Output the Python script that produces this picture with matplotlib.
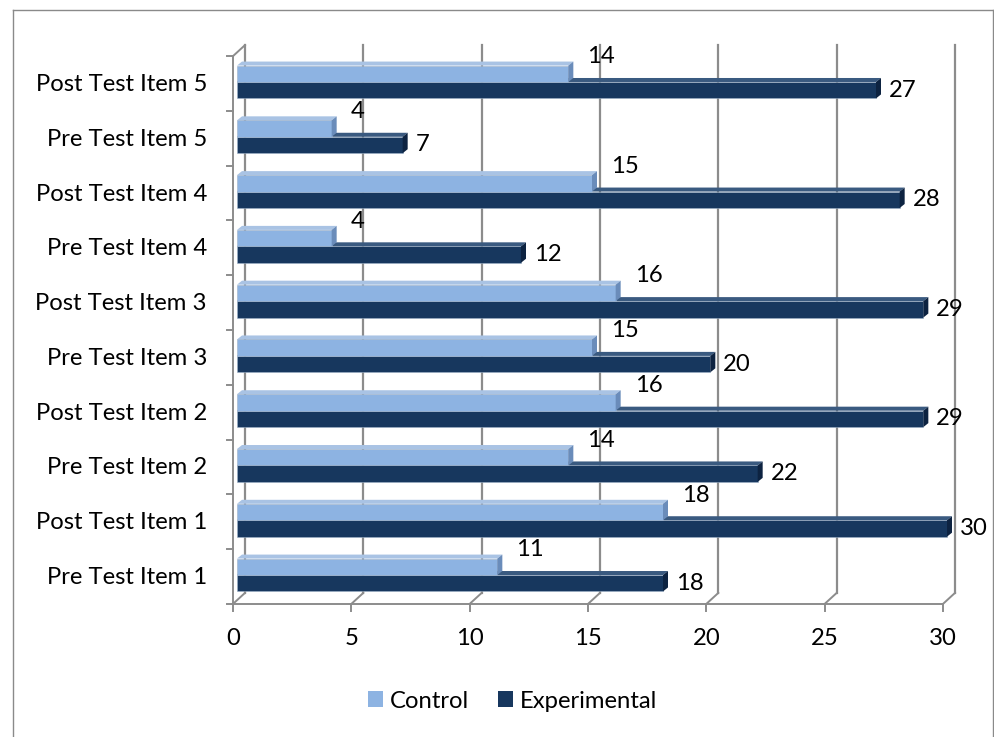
import matplotlib
matplotlib.use("Agg")
import matplotlib.pyplot as plt
from matplotlib import transforms
from matplotlib.patches import Polygon, Patch
from matplotlib.lines import Line2D

plt.rcParams['font.family'] = ['Lato', 'DejaVu Sans']

categories = ["Pre Test Item 1", "Post Test Item 1", "Pre Test Item 2", "Post Test Item 2",
              "Pre Test Item 3", "Post Test Item 3", "Pre Test Item 4", "Post Test Item 4",
              "Pre Test Item 5", "Post Test Item 5"]
control = [11, 18, 14, 16, 15, 16, 4, 15, 4, 14]
experimental = [18, 30, 22, 29, 20, 29, 12, 28, 7, 27]
x_ticks = [0, 5, 10, 15, 20, 25, 30]
series_names = ["Control", "Experimental"]

# face colours: front, top, side
CTRL = ("#8DB3E2", "#A9C3E4", "#6A8CBA")
EXPR = ("#17375E", "#3A5A80", "#0D2341")
GRID = "#8C8C8C"
FS = 17.2

W, H = 995, 737
fig = plt.figure(figsize=(W / 100, H / 100), dpi=100)
fig.patch.set_facecolor("white")

# axes occupy the plane in which the bars sit
left_px, right_px = 237, 947
top_px, bot_px = 54.6, 602.4
ax = fig.add_axes([left_px / W, 1 - bot_px / H, (right_px - left_px) / W, (bot_px - top_px) / H])
ax.set_xlim(0, 30)
ax.set_ylim(-0.5, 9.5)
ax.set_axis_off()

front = transforms.offset_copy(ax.transData, fig=fig, x=-4, y=-1.5, units='dots')
back = transforms.offset_copy(ax.transData, fig=fig, x=8, y=9.5, units='dots')

n = len(categories)

# back wall gridlines
for v in x_ticks:
    ax.plot([v, v], [-0.5, 9.5], color=GRID, lw=1.6, transform=back, clip_on=False, zorder=1)
# floor front edge, slanted connectors and ticks
ax.plot([0, 30], [-0.5, -0.5], color=GRID, lw=1.4, transform=front, clip_on=False, zorder=1)
fig.canvas.draw()
for v in x_ticks:
    fx, fy = front.transform((v, -0.5))
    bx, by = back.transform((v, -0.5))
    fig.add_artist(Line2D([fx / W, bx / W], [fy / H, by / H], color=GRID, lw=1.4, zorder=1))
    fig.add_artist(Line2D([fx / W, fx / W], [fy / H, (fy - 7) / H], color=GRID, lw=1.4, zorder=1))
# left wall
ax.plot([0, 0], [-0.5, 9.5], color=GRID, lw=1.4, transform=front, clip_on=False, zorder=1)
fx, fy = front.transform((0, 9.5))
bx, by = back.transform((0, 9.5))
fig.add_artist(Line2D([fx / W, bx / W], [fy / H, by / H], color=GRID, lw=1.4, zorder=1))
for k in range(n + 1):
    fx, fy = front.transform((0, k - 0.5))
    fig.add_artist(Line2D([fx / W, (fx - 6) / W], [fy / H, fy / H], color=GRID, lw=1.4, zorder=1))

# pixel depth of the bars converted to data units
ux = (right_px - left_px) / 30.0
uy = (bot_px - top_px) / 10.0
ddx, ddy = 5 / ux, 4 / uy
bh = 0.3


def bar3d(val, y0, cols):
    y1 = y0 + bh
    top = Polygon([(0, y1), (ddx, y1 + ddy), (val + ddx, y1 + ddy), (val, y1)],
                  closed=True, facecolor=cols[1], edgecolor="none", zorder=3, clip_on=False)
    side = Polygon([(val, y0), (val, y1), (val + ddx, y1 + ddy), (val + ddx, y0 + ddy)],
                   closed=True, facecolor=cols[2], edgecolor="none", zorder=3, clip_on=False)
    ax.add_patch(top)
    bars = ax.barh(y0 + bh / 2, val, height=bh, left=0, color=cols[0], zorder=3,
                   edgecolor="#9FB2C8", linewidth=0.4)
    for b in bars:
        b.set_clip_on(False)
    ax.add_patch(side)


for i in range(n):
    bar3d(experimental[i], i - bh, EXPR)
for i in range(n):
    bar3d(control[i], i, CTRL)

# value labels
for i in range(n):
    ax.annotate(str(control[i]), xy=(control[i], i + bh / 2), xytext=(19, 17),
                textcoords='offset pixels', ha='left', va='center', fontsize=FS, zorder=5)
    ax.annotate(str(experimental[i]), xy=(experimental[i], i - bh / 2), xytext=(13, 0),
                textcoords='offset pixels', ha='left', va='center', fontsize=FS, zorder=5)

# category labels
for i, c in enumerate(categories):
    ax.annotate(c, xy=(0, i), xycoords=front, xytext=(-26, -1), textcoords='offset pixels',
                ha='right', va='center', fontsize=FS)

# value axis labels
for v in x_ticks:
    ax.annotate(str(v), xy=(v, -0.5), xycoords=front, xytext=(0, -35), textcoords='offset pixels',
                ha='center', va='center', fontsize=FS)

# legend
handles = [Patch(facecolor=CTRL[0], edgecolor="none"), Patch(facecolor=EXPR[0], edgecolor="none")]
fig.legend(handles, series_names, loc='center', bbox_to_anchor=(513 / W, 1 - 701 / H), ncol=2,
           frameon=False, fontsize=FS, handlelength=0.62, handleheight=0.62, handletextpad=0.3,
           columnspacing=1.2)

# outer frame
for xs, ys in [([13, 13], [0, 727]), ([13, 993], [727, 727]), ([993, 993], [727, 0])]:
    fig.add_artist(Line2D([x / W for x in xs], [y / H for y in ys], color="#8A8A8A", lw=1.0))

fig.savefig("out.png", dpi=100)
